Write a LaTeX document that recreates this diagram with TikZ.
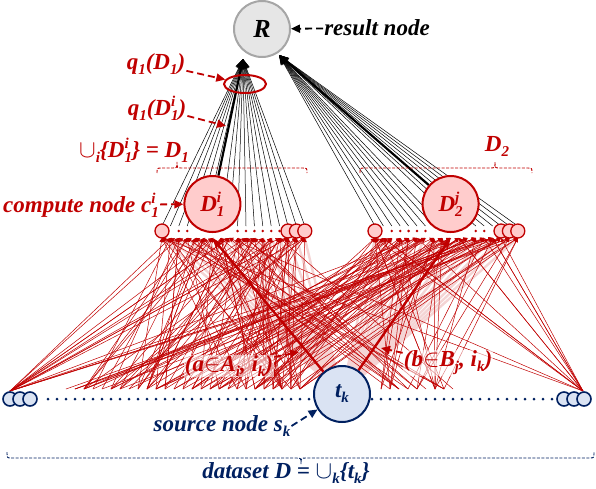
\documentclass[tikz,border=0pt]{standalone}
\usepackage{fontspec}
\setmainfont{Liberation Serif}
\usetikzlibrary{arrows.meta,backgrounds,shapes.geometric}

\definecolor{cred}{HTML}{C00000}
\definecolor{cpink}{HTML}{FFCCCC}
\definecolor{cblue}{HTML}{002060}
\definecolor{cpale}{HTML}{DAE3F3}
\definecolor{cgray}{HTML}{A6A6A6}
\definecolor{cfog}{HTML}{E6E6E6}

\newcommand\lo[1]{\raisebox{-5pt}{\fontsize{15}{15}\selectfont #1}}
\newcommand\hi[1]{\raisebox{9pt}{\fontsize{15}{15}\selectfont #1}}
\newcommand\hilo[2]{\rlap{\hi{#1}}\lo{#2}}

\begin{document}
\begin{tikzpicture}[x=1pt, y=-1pt,
  font=\fontsize{23}{25}\selectfont\bfseries\itshape,
  feed/.style={cred, line width=0.5pt, -{Triangle[length=4pt,width=4pt]}},
  glow/.style={cred!17, line width=2.4pt},
  gather/.style={black, line width=0.5pt, -{Stealth[length=10pt,width=7pt]}},
  heavy/.style={line width=2.4pt, -{Stealth[length=12pt,width=9pt]}},
  pointer/.style={line width=1.8pt, dash pattern=on 7pt off 4pt, -{Triangle[length=9pt,width=8pt]}},
  cnode/.style={circle, draw=cred, fill=cpink, line width=1.3pt, minimum size=14pt, inner sep=0pt},
  bignode/.style={circle, draw=cred, fill=cpink, line width=2pt, minimum size=56pt, inner sep=0pt, text=cred},
  snode/.style={circle, draw=cblue, fill=cpale, line width=1.6pt, minimum size=14pt, inner sep=0pt},
  lbl/.style={inner sep=1pt, text=cred},
  shade/.style={fill=white, fill opacity=.55, text opacity=1},
  curly/.style={line width=0.9pt, dash pattern=on 3pt off 1.5pt},
]
\useasboundingbox (0,0) rectangle (596,488);

% result node
\node[circle, draw=cgray, fill=cfog, line width=2pt, minimum size=56pt, inner sep=0pt,
      font=\fontsize{26}{26}\selectfont\bfseries\itshape] (R) at (262,29) {R};
\coordinate (Rl) at (243,59);
\coordinate (Rr) at (279,55);

% compute rows: 0-17 for D_1, 18-35 for D_2
\foreach \n in {0,...,35}{
  \pgfmathsetmacro\cx{ifthenelse(\n<18, 162+8.4*\n, 375+8.4*(\n-18))}
  \coordinate (c\n) at (\cx,231);
  \coordinate (in\n) at (\cx,238);
  \coordinate (out\n) at (\cx,226);
}
\foreach \n in {2,3,9,10,11,12,13,14,20,21,22,23,24,30,31}
  \fill[cred] (c\n) circle (1.4pt);
\foreach \n in {0,15,16,17,18,33,34,35}
  \node[cnode] (k\n) at (c\n) {};
\node[bignode] (D1i) at (212.4,204) {D\hilo{i}{1}};
\node[bignode] (D2j) at (450.6,204) {D\hilo{j}{2}};

% source row
\foreach \x in {48,57,...,552}
  \fill[cblue] (\x,399) circle (1.5pt);
\node[snode] (sl1) at (10,399) {};
\node[snode] (sl2) at (20,399) {};
\node[snode] (sl3) at (30,399) {};
\node[snode] (sr1) at (564,399) {};
\node[snode] (sr2) at (574,399) {};
\node[snode] (sr3) at (584,399) {};
\node[circle, draw=cblue, fill=cpale, line width=2pt, minimum size=56pt, inner sep=0pt,
      text=cblue] (tk) at (342,394) {t\lo{k}};

\coordinate (src0) at (10,391);
\foreach \i in {1,...,27}{
  \pgfmathsetmacro\x{57+9*\i}
  \coordinate (src\i) at (\x,389);
}
\foreach \i in {28,...,36}{
  \pgfmathsetmacro\x{381+9*(\i-28)}
  \coordinate (src\i) at (\x,389);
}
\coordinate (src37) at (583,391);

\begin{scope}[on background layer]
  \foreach \n in {0,...,35}
    \draw[glow] (tk) -- (in\n);
  \pgfmathsetseed{42}
  \foreach \n in {0,...,35}{
    \foreach \r in {1,...,5}{
      \pgfmathrandominteger{\s}{0}{37}
      \draw[feed] (src\s) -- (in\n);
    }
  }
  \foreach \r in {1,...,7}{
    \pgfmathrandominteger{\t}{0}{17}
    \draw[feed] (src0) -- (in\t);
    \pgfmathrandominteger{\t}{18}{35}
    \draw[feed] (src37) -- (in\t);
  }
  % partial results up to R
  \foreach \n in {0,...,17}{
    \ifnum\n=6\else \draw[gather] (out\n) -- (Rl); \fi
  }
  \foreach \n in {18,...,35}{
    \ifnum\n=27\else \draw[gather] (out\n) -- (Rr); \fi
  }
  \draw[gather, line width=2.2pt] (D1i) -- (Rl);
  \draw[gather, line width=2.2pt] (D2j) -- (Rr);
\end{scope}

\draw[heavy, cred] (tk) -- (in6);
\draw[heavy, cred] (tk) -- (in27);

\node[ellipse, draw=cred, line width=2pt, minimum width=42pt, minimum height=18pt,
      inner sep=0pt] (ring) at (245,84) {};

% braces
\draw[curly, cred] (157,173) .. controls (157,168) .. (162,168) -- (172,168)
  .. controls (177,168) .. (177,162) .. controls (177,168) .. (182,168) -- (302,168)
  .. controls (307,168) .. (307,173);
\draw[curly, cred] (360,173) .. controls (360,168) .. (365,168) -- (490,168)
  .. controls (495,168) .. (495,162) .. controls (495,168) .. (500,168) -- (527,168)
  .. controls (532,168) .. (532,173);
\draw[curly, cblue] (7,452) .. controls (7,458) .. (12,458) -- (296,458)
  .. controls (301,458) .. (301,464) .. controls (301,458) .. (306,458) -- (589,458)
  .. controls (594,458) .. (594,452);

% labels
\node[lbl, text=black] (res) at (377,28) {result node};
\node[lbl] (qD) at (156,64) {q\lo{1}(D\lo{1})};
\node[lbl] (qDi) at (157,108) {q\lo{1}(D\hilo{i}{1})};
\node[lbl] (uni) at (134,150) {$\cup$\lo{i}\{D\hilo{i}{1}\} = D\lo{1}};
\node[lbl] (D2lab) at (497,146) {D\lo{2}};
\node[lbl, anchor=west] (cmp) at (2,205) {compute node c\hilo{i}{1}};
\node[lbl, shade] (ea) at (229,366) {(a$\in$A\lo{i}, i\lo{k})};
\node[lbl, shade] (eb) at (448,363) {(b$\in$B\lo{j}, i\lo{k})};
\node[lbl, text=cblue] (srcl) at (222,426) {source node s\lo{k}};
\node[lbl, text=cblue] (ds) at (286,473) {dataset D = $\cup$\lo{k}\{t\lo{k}\}};

\coordinate (hit1) at (226,126);
\coordinate (hitA) at (299,352);
\coordinate (hitB) at (381,348);
\draw[pointer, black] (res) -- (R);
\draw[pointer, cred] (qD) -- (ring);
\draw[pointer, cred] (qDi) -- (hit1);
\draw[pointer, cred] (cmp) -- (D1i);
\draw[pointer, cred] (ea) -- (hitA);
\draw[pointer, cred] (eb) -- (hitB);
\draw[pointer, cblue] (srcl.east) -- (tk);
\end{tikzpicture}
\end{document}
